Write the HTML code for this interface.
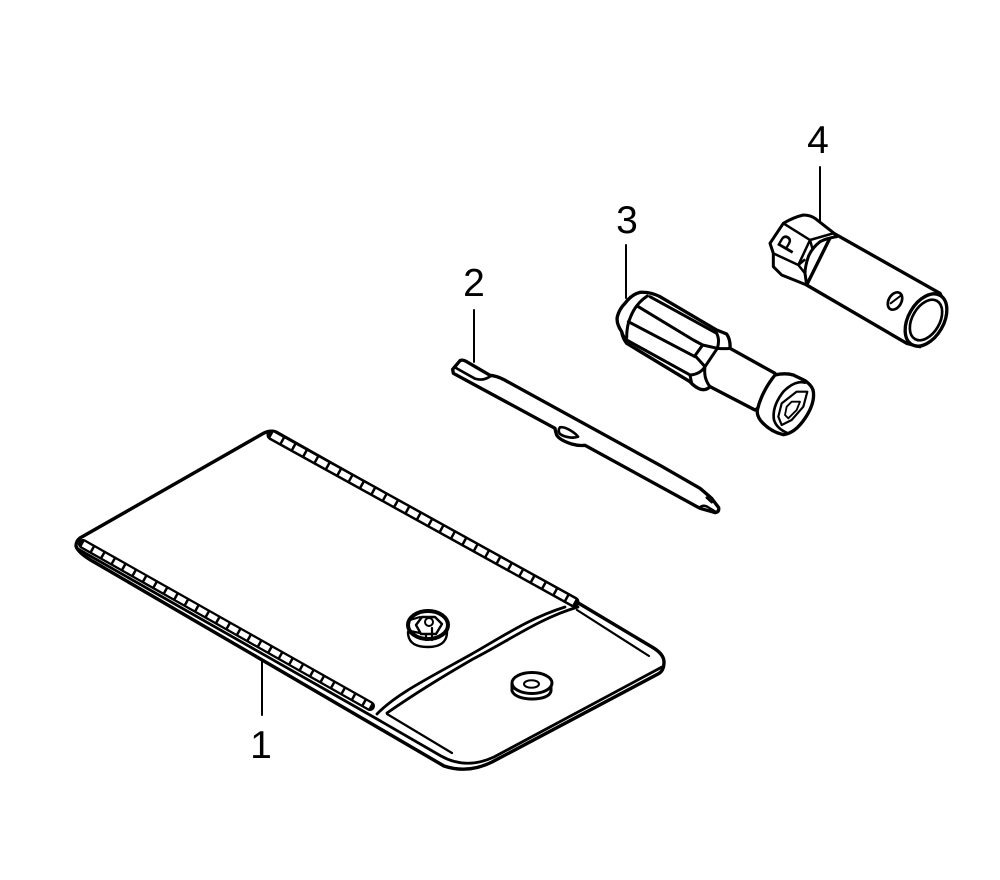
<!DOCTYPE html>
<html><head><meta charset="utf-8"><style>
html,body{margin:0;padding:0;background:#fff}
svg{display:block}
text{font-family:"Liberation Sans",sans-serif;font-size:39px;fill:#000;text-anchor:middle}
.a{fill:none;stroke:#000;stroke-linecap:round;stroke-linejoin:round}
</style></head><body>
<svg width="1000" height="880" viewBox="0 0 1000 880" xmlns="http://www.w3.org/2000/svg">
<rect width="1000" height="880" fill="#fff"/>
<text x="261" y="758">1</text>
<text x="474" y="296">2</text>
<text x="627" y="233">3</text>
<text x="818" y="153">4</text>
<g class="a" stroke-width="2">
<path d="M262 657V715M474 310V362M626 245V298M820 167V222"/>
</g>

<!-- pouch -->
<g class="a" stroke-width="3.4">
<path d="M80 538L264 433Q270 430 276 432L580 604L652 647Q664 654 664 662Q664 671 658 674L492 762Q468 774 444 766L94 562Q78 553 76 546Q76 541 80 538Z" fill="#fff"/>
<path d="M78 549L377 719L441 756Q466 770 494 757L662 667" stroke-width="2.8"/>
<path d="M377 714C395 695 425 680 470 655C505 635 530 618 565 607" stroke-width="2.8"/>
<path d="M387 713C410 697 440 678 473 659C510 640 540 618 578 607" stroke-width="2.8"/>
<path d="M387 714L452 753M577 610L649 656" stroke-width="2.2"/>
</g>
<!-- stitches -->
<g fill="none" stroke-linecap="butt">
<path d="M272 435L574 602" stroke="#000" stroke-width="11" stroke-linecap="round"/>
<path d="M272 435L574 602" stroke="#fff" stroke-width="6" stroke-dasharray="10.500 2.500"/>
<path d="M83 544L370 706" stroke="#000" stroke-width="10" stroke-linecap="round"/>
<path d="M83 544L370 706" stroke="#fff" stroke-width="5.400" stroke-dasharray="9.500 2.500"/>
</g>

<!-- snap -->
<g class="a" stroke-width="3">
<path d="M408 632C408 644 417 647 428 647C440 647 447 642 447 632" stroke-width="2.4"/>
<ellipse cx="428" cy="625" rx="20" ry="14" fill="#fff" stroke-width="4"/>
<path d="M416 625L422 617H435L442 624L436 634H421Z" stroke-width="2.4"/>
<ellipse cx="429" cy="622" rx="4" ry="4" stroke-width="2"/>
<path d="M426 634V640M432 628V640M410 620L420 617M410 631L420 633" stroke-width="2.2"/>
</g>
<!-- washer -->
<g class="a" stroke-width="3">
<path d="M512 684V691C514 696 522 699 532 699C543 699 550 696 551 691V684" fill="#fff"/>
<ellipse cx="532" cy="683" rx="20" ry="10.5" fill="#fff"/>
<ellipse cx="531.500" cy="684" rx="7.500" ry="3.800" stroke-width="2"/>
</g>

<!-- tool 2 -->
<g class="a" transform="translate(440 340) scale(.33333)">
<path stroke-width="10" fill="#fff" d="M38 88L60 62Q68 58 78 64L150 106Q170 108 190 118L660 376L780 445Q800 462 815 475L836 503Q838 516 826 518L780 505L435 316Q415 318 395 312Q358 300 350 285Q346 272 345 265L40 100Z"/>
<path stroke-width="8" d="M48 84L105 116Q130 124 152 108"/>
<path stroke-width="8" d="M360 262C375 258 405 278 414 290C400 296 375 292 360 282Q352 272 360 262Z"/>
<path stroke-width="7" d="M800 473L815 487M778 503Q790 492 805 502L828 516"/>
</g>

<!-- tool 3 handle -->
<g class="a" transform="translate(610 285) scale(.33333)">
<path stroke-width="10" fill="#fff" d="M45 55Q65 28 90 22Q120 20 150 35L320 135L350 147Q362 165 360 190L495 265L530 320L435 375L300 305Q285 320 265 310Q250 302 240 290L50 175Q38 160 35 140Q18 115 22 95Q28 72 45 55Z"/>
<path stroke-width="9" d="M112 33Q78 55 62 95M85 65L250 165L278 180L322 190M120 35L320 145Q330 165 322 190M62 95Q50 120 50 158M55 110L255 215M255 212L278 180M255 212L285 245L322 190M322 190Q345 192 360 190M35 140Q42 160 50 165L240 270Q270 268 285 245M240 270L245 295M285 245Q280 280 300 305"/>
</g>
<!-- tool 3 head -->
<g class="a" transform="translate(750 360) scale(.33333)">
<path stroke-width="10" fill="#fff" d="M22 150Q35 95 75 45Q105 38 130 45L165 62Q188 78 190 95Q195 130 165 175Q135 220 100 224Q60 215 32 182Q20 166 22 150Z"/>
<path stroke-width="8" d="M165 68Q135 60 100 95Q65 140 72 180Q80 205 110 218"/>
<path stroke-width="6.500" d="M140 95L172 95L160 140L125 180L95 195L85 170L95 130Z"/>
<path stroke-width="5.500" d="M125 125L150 125L140 150L115 175L105 165L110 140Z"/>
</g>

<!-- tool 4 body -->
<g class="a" transform="translate(600 190) scale(.33333)">
<path stroke-width="10" fill="#fff" d="M698 128L1020 310L1030 330L960 470L920 460L620 285Z"/>
<ellipse cx="978" cy="390" rx="53" ry="85" transform="rotate(30 978 390)" stroke-width="10" fill="#fff"/>
<ellipse cx="978" cy="390" rx="41" ry="66" transform="rotate(30 978 390)" stroke-width="8"/>
<ellipse cx="885" cy="333" rx="19" ry="28" transform="rotate(30 885 333)" stroke-width="8" fill="#fff"/>
<path stroke-width="6" d="M872 340L905 315"/>
</g>
<!-- tool 4 hex -->
<g class="a" transform="translate(765 210) scale(.33333)">
<path stroke-width="9" fill="#fff" d="M15 100L55 40Q85 22 115 15Q135 15 150 25L205 68L215 80Q185 85 165 95Q140 115 130 140Q120 170 120 190L125 225L50 195L25 170L25 130Z"/>
<path stroke-width="7.500" d="M55 40L135 90L100 165M135 90L205 70M15 100L25 130L100 165M100 165L120 190M135 90L142 115L165 95M118 150L100 165"/>
</g>
<text transform="translate(788 244) rotate(-60)" style="font-size:24px" y="8" stroke="#000" stroke-width=".6">P</text>
</svg>
</body></html>
